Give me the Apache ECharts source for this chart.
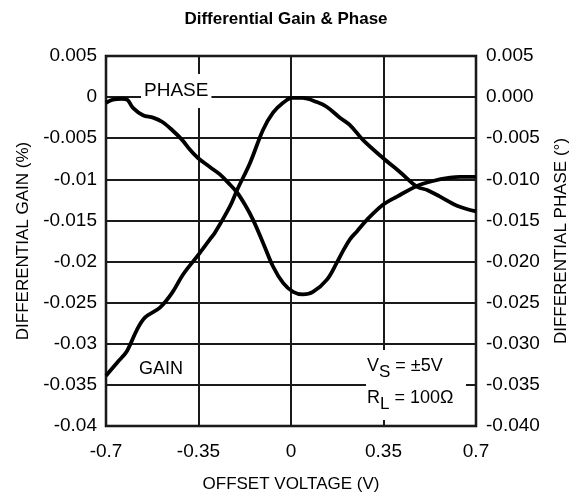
<!DOCTYPE html>
<html>
<head>
<meta charset="utf-8">
<style>
  html, body { margin: 0; padding: 0; background: #fff; }
  #chart { width: 572px; height: 503px; }
</style>
<script src="https://cdn.jsdelivr.net/npm/echarts@6/dist/echarts.min.js"></script>
</head>
<body>
<div id="chart"></div>
<script>
// Offset voltage (V) and differential phase (deg)
const phaseVoltage = [-0.7, -0.674, -0.64, -0.62, -0.598, -0.56, -0.522, -0.488, -0.45, -0.412, -0.382, -0.352, -0.307, -0.269, -0.238, -0.204, -0.174, -0.144, -0.106, -0.068, -0.03, 0.008, 0.045, 0.083, 0.136, 0.174, 0.197, 0.223, 0.25, 0.288, 0.348, 0.401, 0.477, 0.537, 0.602, 0.639, 0.7];
const phaseValues  = [-0.0007, -0.0003, -0.0002, -0.0003, -0.0013, -0.0022, -0.0025, -0.003, -0.004, -0.0052, -0.0064, -0.0074, -0.0085, -0.0094, -0.0104, -0.0116, -0.0131, -0.0149, -0.0177, -0.0206, -0.0226, -0.0237, -0.024, -0.0237, -0.0222, -0.0201, -0.0187, -0.0173, -0.0163, -0.0149, -0.0131, -0.0121, -0.0108, -0.0102, -0.0098, -0.0097, -0.0097];

// Offset voltage (V) and differential gain (%)
const gainVoltage = [-0.7, -0.658, -0.621, -0.583, -0.552, -0.496, -0.45, -0.409, -0.356, -0.307, -0.288, -0.231, -0.204, -0.155, -0.106, -0.068, -0.03, 0.004, 0.042, 0.098, 0.136, 0.185, 0.223, 0.272, 0.348, 0.412, 0.477, 0.515, 0.564, 0.628, 0.7];
const gainValues  = [-0.0339, -0.0323, -0.0309, -0.0283, -0.0268, -0.0256, -0.0238, -0.0216, -0.0194, -0.0173, -0.0165, -0.0133, -0.0113, -0.008, -0.004, -0.0019, -0.0007, -0.0001, -0.0001, -0.0006, -0.0012, -0.0025, -0.0034, -0.0052, -0.0074, -0.0091, -0.0109, -0.0113, -0.0121, -0.0132, -0.0139];

// Tick labels
const xTickLabels = ['-0.7', '-0.35', '0', '0.35', '0.7'];
const gainTickLabels = ['-0.04', '-0.035', '-0.03', '-0.025', '-0.02', '-0.015', '-0.01', '-0.005', '0', '0.005'];
const phaseTickLabels = ['-0.040', '-0.035', '-0.030', '-0.025', '-0.020', '-0.015', '-0.010', '-0.005', '0.000', '0.005'];

const Y_MIN = -0.04, Y_MAX = 0.005, Y_STEP = 0.005;
const X_MIN = -0.7, X_MAX = 0.7, X_STEP = 0.35;

const FONT = '"Liberation Sans", Arial, Helvetica, sans-serif';
const tickIndex = (v, min, step) => Math.round((v - min) / step);

const chart = echarts.init(document.getElementById('chart'), null, { renderer: 'canvas' });

const gridLine = { show: true, lineStyle: { color: '#1a1a1a', width: 2 } };
const nameText = { color: '#000', fontFamily: FONT, fontSize: 17 };
const tickText = { color: '#000', fontFamily: FONT, fontSize: 19 };

function pairs(xs, ys) { return xs.map((x, i) => [x, ys[i]]); }

chart.setOption({
  animation: false,
  backgroundColor: '#fff',
  title: {
    text: 'Differential Gain & Phase',
    left: 'center',
    top: 6,
    textStyle: { fontFamily: FONT, fontSize: 17, fontWeight: 'bold', color: '#000' }
  },
  grid: {
    left: 106, right: 96, top: 56, bottom: 77,
    containLabel: false, outerBoundsMode: 'none',
    show: true, borderColor: '#000', borderWidth: 2.5, backgroundColor: 'transparent'
  },
  xAxis: {
    type: 'value', min: X_MIN, max: X_MAX, interval: X_STEP,
    name: 'OFFSET VOLTAGE (V)', nameLocation: 'middle', nameGap: 50,
    nameTextStyle: nameText,
    axisLine: { show: false }, axisTick: { show: false },
    axisLabel: { ...tickText, margin: 16, formatter: v => xTickLabels[tickIndex(v, X_MIN, X_STEP)] },
    splitLine: gridLine
  },
  yAxis: [
    {
      type: 'value', min: Y_MIN, max: Y_MAX, interval: Y_STEP, position: 'left',
      name: 'DIFFERENTIAL GAIN (%)', nameLocation: 'middle', nameGap: 74, nameRotate: 90,
      nameTextStyle: nameText,
      axisLine: { show: false }, axisTick: { show: false },
      axisLabel: { ...tickText, margin: 9, formatter: v => gainTickLabels[tickIndex(v, Y_MIN, Y_STEP)] },
      splitLine: gridLine
    },
    {
      type: 'value', min: Y_MIN, max: Y_MAX, interval: Y_STEP, position: 'right',
      name: 'DIFFERENTIAL PHASE (°)', nameLocation: 'middle', nameGap: 77, nameRotate: 90,
      nameTextStyle: nameText,
      axisLine: { show: false }, axisTick: { show: false },
      axisLabel: { ...tickText, margin: 10, formatter: v => phaseTickLabels[tickIndex(v, Y_MIN, Y_STEP)] },
      splitLine: { show: false }
    }
  ],
  series: [
    {
      name: 'PHASE', type: 'line', yAxisIndex: 1, smooth: 0.35, showSymbol: false,
      lineStyle: { color: '#000', width: 3.8 },
      data: pairs(phaseVoltage, phaseValues), z: 5
    },
    {
      name: 'GAIN', type: 'line', yAxisIndex: 0, smooth: 0.35, showSymbol: false,
      lineStyle: { color: '#000', width: 3.8 },
      data: pairs(gainVoltage, gainValues), z: 5
    }
  ],
  graphic: [
    {
      type: 'text', left: 141, top: 74, z: 10,
      style: {
        text: 'PHASE', fontFamily: FONT, fontSize: 19, fill: '#000',
        backgroundColor: '#fff', padding: [7, 3, 8, 3]
      }
    },
    {
      type: 'text', left: 139, top: 360, z: 10,
      style: { text: 'GAIN', fontFamily: FONT, fontSize: 18, fill: '#000' }
    },
    {
      type: 'rect', left: 366, top: 350, z: 9,
      shape: { width: 100, height: 70 },
      style: { fill: '#fff' }
    },
    {
      type: 'text', left: 367, top: 357, z: 10,
      style: {
        text: '{n|V}{s|S}{n| = ±5V}', fontFamily: FONT, fill: '#000',
        rich: {
          n: { fontFamily: FONT, fontSize: 18, fill: '#000' },
          s: { fontFamily: FONT, fontSize: 17, fill: '#000', padding: [12, 0, 0, 0] }
        }
      }
    },
    {
      type: 'text', left: 367, top: 389, z: 10,
      style: {
        text: '{n|R}{s|L}{n| = 100Ω}', fontFamily: FONT, fill: '#000',
        rich: {
          n: { fontFamily: FONT, fontSize: 18, fill: '#000' },
          s: { fontFamily: FONT, fontSize: 17, fill: '#000', padding: [12, 0, 0, 0] }
        }
      }
    }
  ]
});
</script>
</body>
</html>
